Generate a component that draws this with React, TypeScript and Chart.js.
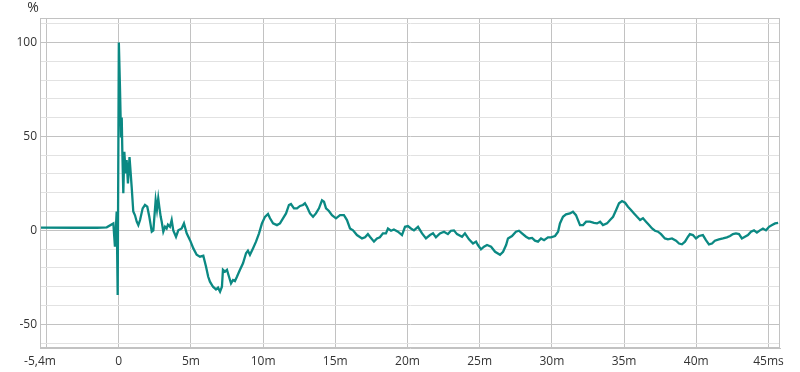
import React, { useEffect, useRef } from "react";
import { Chart, registerables } from "chart.js";

Chart.register(...registerables);

// Time axis (ms) and amplitude (%)
const timeMs: number[] = [
  -5.45, -3, -1.5, -0.83, -0.37, -0.26, -0.14, -0.07, 0.01, 0.09, 0.16, 0.21, 0.25, 0.32, 0.39, 0.48, 0.55, 0.64, 0.75,
  0.9, 1.01, 1.13, 1.25, 1.36, 1.48, 1.66, 1.82, 1.98, 2.12, 2.29, 2.4, 2.56, 2.65, 2.74, 2.81, 2.91, 2.98, 3.09,
  3.21, 3.32, 3.41, 3.55, 3.67, 3.78, 3.97, 4.13, 4.36, 4.52, 4.71, 4.94, 5.17, 5.4, 5.63, 5.86, 6.05, 6.2, 6.32,
  6.53, 6.74, 6.88, 7.02, 7.15, 7.22, 7.36, 7.5, 7.64, 7.78, 7.92, 8.05, 8.19, 8.4, 8.61, 8.82, 8.95, 9.09, 9.3,
  9.51, 9.72, 9.92, 10.13, 10.34, 10.48, 10.69, 10.96, 11.17, 11.38, 11.59, 11.79, 11.93, 12.14, 12.35, 12.56,
  12.76, 12.9, 13.04, 13.25, 13.46, 13.66, 13.87, 14.08, 14.22, 14.36, 14.56, 14.77, 15.05, 15.33, 15.6, 15.81,
  16.02, 16.23, 16.5, 16.85, 17.06, 17.26, 17.4, 17.68, 17.89, 18.09, 18.3, 18.51, 18.65, 18.86, 19.06, 19.34,
  19.62, 19.83, 20.03, 20.24, 20.45, 20.73, 21.01, 21.28, 21.56, 21.77, 21.97, 22.25, 22.53, 22.8, 23.01, 23.22,
  23.43, 23.78, 23.98, 24.26, 24.54, 24.75, 24.88, 25.09, 25.3, 25.51, 25.79, 26.07, 26.41, 26.62, 26.83, 26.96,
  27.24, 27.51, 27.72, 27.93, 28.21, 28.42, 28.63, 28.83, 29.04, 29.25, 29.46, 29.73, 29.94, 30.22, 30.43, 30.56,
  30.77, 30.98, 31.25, 31.46, 31.67, 31.95, 32.16, 32.37, 32.64, 32.92, 33.13, 33.34, 33.54, 33.82, 34.03, 34.24,
  34.45, 34.65, 34.86, 35.07, 35.27, 35.48, 35.69, 35.9, 36.11, 36.31, 36.52, 36.73, 36.94, 37.14, 37.35, 37.56,
  37.83, 38.04, 38.32, 38.6, 38.81, 39.01, 39.22, 39.43, 39.56, 39.77, 39.98, 40.19, 40.46, 40.67, 40.88, 41.09,
  41.29, 41.57, 41.85, 42.12, 42.34, 42.54, 42.75, 42.96, 43.16, 43.37, 43.58, 43.79, 44.0, 44.2, 44.41, 44.62,
  44.83, 45.04, 45.25, 45.46, 45.67,
];

const amplitude: number[] = [
  1.5, 1.4, 1.4, 1.6, 3.7, -8.7, 10, -34.4, 100, 75.5, 50, 60, 42.7, 19.7, 41.8, 30.3, 37.4, 25, 39,
  23, 10, 8, 4.6, 2.8, 5.5, 11.7, 13.5, 12.6, 7.2, -0.7, 0, 16, 11, 17, 12.6, 7.2, 4.6, -0.7,
  1.9, 1, 3, 1.9, 5.5, 0, -3.4, 0, 1, 3.7, -1.6, -5.2, -9.6, -13, -14, -13.5, -19.4, -24.7, -27.3,
  -30, -31.4, -30.5, -32.6, -30, -21, -22, -21, -24.7, -28.2, -26.4, -27, -24.7, -21, -17.5, -12.2, -10.8, -13, -9.6,
  -6, -1.6, 3.7, 7.2, 8.7, 6.4, 3.7, 2.8, 3.7, 6.4, 9, 13.5, 14, 11.7, 11.7, 13,
  13.5, 14.4, 12.6, 9, 7.2, 9, 11.7, 16, 15.2, 11.7, 10.3, 8.1, 6.4, 8.1, 8.1, 5.5,
  1, 0, -2.5, -4.3, -3.7, -2, -3.4, -6, -4.3, -3.7, -1.6, -1.6, 1, -0.2, 0.5, -0.7,
  -2.5, 1.9, 2.3, 1, 0, 1.9, -1.6, -4.3, -2.5, -1.6, -3.7, -1.6, -0.7, -2, -0.2, 0,
  -2, -3.4, -1.6, -4.8, -7, -6, -7.8, -10.1, -8.7, -7.8, -8.7, -11.4, -13, -11.4, -7.8, -4.3,
  -3, -0.7, -0.2, -1.6, -3.4, -4.3, -4, -5.5, -6, -4.3, -5.2, -3.7, -3.7, -3, -0.7, 3.7,
  7.2, 8.5, 9, 9.9, 8.1, 2.8, 2.8, 4.6, 4.6, 4, 3.7, 4.6, 2.8, 3.7, 5.5, 7.2,
  10.8, 14.4, 15.6, 14.7, 12.6, 10.8, 9, 7.2, 5.5, 6.4, 4.6, 2.8, 1, -0.2, -0.7, -2,
  -4.3, -4.8, -4.3, -5.5, -7, -7.4, -6, -3.4, -2, -2.5, -4.3, -3, -2.5, -5.2, -7.5, -7,
  -5.5, -4.8, -4.3, -3.7, -3, -2, -1.6, -2, -4.3, -3.4, -2.5, -0.7, 0, -1.2, 0, 1,
  0, 1.9, 2.8, 3.7, 4,
];

const xMin = -5.45;
const xMax = 45.8;
const xTicks: number[] = [-5, 0, 5, 10, 15, 20, 25, 30, 35, 40, 45];
const yMin = -62.6;
const yMax = 113;
const yMajorTicks: number[] = [-50, 0, 50, 100];
const yUnitLabel = "%";

const FONT = "'Open Sans', 'Noto Sans', sans-serif";

export default function App() {
  const ref = useRef<HTMLCanvasElement | null>(null);

  useEffect(() => {
    document.body.style.margin = "0";
    const canvas = ref.current;
    if (!canvas) return;

    const unitPlugin = {
      id: "unitLabel",
      afterDraw(chart: any) {
        const ctx = chart.ctx;
        ctx.save();
        ctx.fillStyle = "#333";
        ctx.font = `14px ${FONT}`;
        ctx.textAlign = "center";
        ctx.textBaseline = "middle";
        ctx.fillText(yUnitLabel, 33, 8);
        ctx.restore();
      },
    };

    const chart = new Chart(canvas, {
      type: "line",
      data: {
        datasets: [
          {
            data: timeMs.map((t, i) => ({ x: t, y: amplitude[i] })),
            borderColor: "#0b8983",
            borderWidth: 2.3,
            pointRadius: 0,
            tension: 0,
            fill: false,
          },
        ],
      },
      options: {
        animation: false,
        responsive: false,
        maintainAspectRatio: false,
        layout: { padding: { left: 0, top: 18, right: 20, bottom: 0 } },
        plugins: { legend: { display: false }, tooltip: { enabled: false } },
        scales: {
          x: {
            type: "linear",
            min: xMin,
            max: xMax,
            afterBuildTicks: (scale: any) => {
              scale.ticks = [{ value: xMin }, ...xTicks.map((v) => ({ value: v }))];
            },
            afterFit: (scale: any) => {
              scale.height = 24;
            },
            ticks: {
              autoSkip: false,
              maxRotation: 0,
              padding: 6,
              color: "#333",
              font: { family: FONT, size: 12 },
              callback: (v: any) => {
                const n = Number(v);
                if (n === xMin) return "-5,4m";
                if (n === -5) return "";
                if (n === 0) return "0";
                if (n === 45) return "45ms";
                return `${n}m`;
              },
            },
            grid: {
              drawTicks: false,
              color: "#c2c2c2",
              lineWidth: 1,
            },
            border: { display: true, color: "#c2c2c2" },
          },
          y: {
            type: "linear",
            min: yMin,
            max: yMax,
            afterBuildTicks: (scale: any) => {
              const t: any[] = [];
              for (let v = -60; v <= 110; v += 10) t.push({ value: v });
              scale.ticks = t;
            },
            afterFit: (scale: any) => {
              scale.width = 40;
            },
            ticks: {
              autoSkip: false,
              padding: 3,
              color: "#333",
              font: { family: FONT, size: 12 },
              callback: (v: any) => (yMajorTicks.includes(Number(v)) ? String(v) : ""),
            },
            grid: {
              drawTicks: false,
              color: (c: any) =>
                c.tick && yMajorTicks.includes(c.tick.value) ? "#c2c2c2" : "#e2e2e2",
              lineWidth: 1,
            },
            border: { display: true, color: "#c2c2c2" },
          },
        },
      },
      plugins: [
        unitPlugin,
        {
          id: "frame",
          afterDraw(chart: any) {
            const { ctx, chartArea } = chart;
            ctx.save();
            ctx.strokeStyle = "#c2c2c2";
            ctx.lineWidth = 1;
            ctx.strokeRect(
              Math.round(chartArea.left) + 0.5,
              Math.round(chartArea.top) + 0.5,
              Math.round(chartArea.right - chartArea.left) - 1,
              Math.round(chartArea.bottom - chartArea.top) - 1
            );
            ctx.restore();
          },
        },
      ],
    } as any);

    return () => chart.destroy();
  }, []);

  return (
    <div style={{ width: 800, height: 372 }}>
      <canvas ref={ref} width={800} height={372} style={{ display: "block" }} />
    </div>
  );
}
